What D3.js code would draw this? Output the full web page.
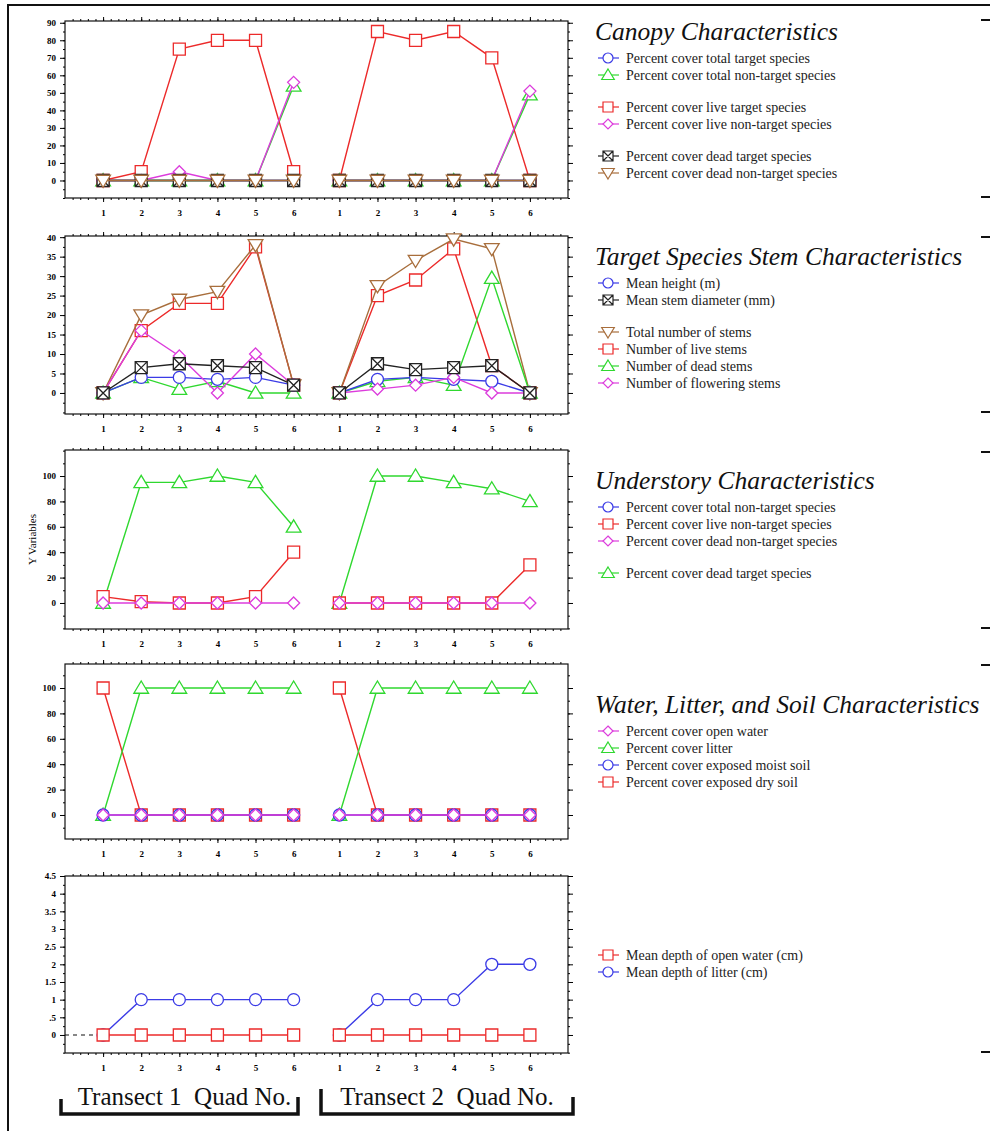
<!DOCTYPE html>
<html lang="en">
<head>
<meta charset="utf-8">
<title>Transect quad characteristics</title>
<script src="https://d3js.org/d3.v7.min.js"></script>
<style>
  body { margin: 0; background: #fff; }
  svg { display: block; }
  .legend-text { font-family: "Liberation Serif", "Times New Roman", serif; font-size: 14px; fill: #222; }
  .panel-title { font-family: "Liberation Serif", "Times New Roman", serif; font-size: 25.5px; font-style: italic; fill: #111; }
  .transect-label { font-family: "Liberation Serif", "Times New Roman", serif; font-size: 25px; fill: #111; white-space: pre; }
</style>
</head>
<body>
<div id="chart"></div>
<script>
// quad numbers inside each transect
const quads = [1, 2, 3, 4, 5, 6];

// every series is [transect 1 values, transect 2 values]; null = not plotted
// Canopy characteristics (percent cover)
const canopyTotalTarget    = [[0, 0, 0, 0, 0, 0], [0, 0, 0, 0, 0, 0]];
const canopyTotalNonTarget = [[0, 0, 0, 0, 0, 54], [0, 0, 0, 0, 0, 49]];
const canopyLiveTarget     = [[0, 5, 75, 80, 80, 5], [0, 85, 80, 85, 70, 0]];
const canopyLiveNonTarget  = [[0, 0, 5, 0, 0, 56], [0, 0, 0, 0, 0, 51]];
const canopyDeadTarget     = [[0, 0, 0, 0, 0, 0], [0, 0, 0, 0, 0, 0]];
const canopyDeadNonTarget  = [[0, 0, 0, 0, 0, 0], [0, 0, 0, 0, 0, 0]];

// Target species stem characteristics
const stemMeanHeight   = [[0, 4, 4, 3.5, 4, 2], [0, 3.5, 4, 3.5, 3, 0]];
const stemMeanDiameter = [[0, 6.5, 7.5, 7, 6.5, 2], [0, 7.5, 6, 6.5, 7, 0]];
const stemTotal        = [[0, 20, 24, 26, 38, 2], [0, 27.5, 34, 39.5, 37, 0]];
const stemLive         = [[0, 16, 23, 23, 37.5, 2], [0, 25, 29, 37, 7, 0]];
const stemDead         = [[0, 4, 1, 3, 0, 0], [0, 3, 4, 2, 29.5, 0]];
const stemFlowering    = [[0, 16, 9.5, 0, 10, 2], [0, 1, 2, 4, 0, 0]];

// Understory characteristics (percent cover)
const underTotalNonTarget = [[null, null, null, null, null, null], [null, null, null, null, null, null]];
const underLiveNonTarget  = [[5, 1, 0, 0, 5, 40], [0, 0, 0, 0, 0, 30]];
const underDeadNonTarget  = [[0, 0, 0, 0, 0, 0], [0, 0, 0, 0, 0, 0]];
const underDeadTarget     = [[0, 95, 95, 100, 95, 60], [0, 100, 100, 95, 90, 80]];

// Water, litter and soil (percent cover)
const waterOpen      = [[0, 0, 0, 0, 0, 0], [0, 0, 0, 0, 0, 0]];
const waterLitter    = [[0, 100, 100, 100, 100, 100], [0, 100, 100, 100, 100, 100]];
const waterMoistSoil = [[0, 0, 0, 0, 0, 0], [0, 0, 0, 0, 0, 0]];
const waterDrySoil   = [[100, 0, 0, 0, 0, 0], [100, 0, 0, 0, 0, 0]];

// Depths (cm)
const depthOpenWater = [[0, 0, 0, 0, 0, 0], [0, 0, 0, 0, 0, 0]];
const depthLitter    = [[0, 1, 1, 1, 1, 1], [0, 1, 1, 1, 2, 2]];

const transectLabels = ["Transect 1  Quad No.", "Transect 2  Quad No."];

const colors = {
    blue: "#3b3be6", green: "#2fd82f", red: "#ec2a2a",
    magenta: "#dc3cdc", brown: "#a86e3c", black: "#222"
};

// panels: draw order = series order (later on top); legend lists legend order + gaps
const panels = [
    {
        title: "Canopy Characteristics",
        frame: [21, 198], domain: [-10, 91],
        major: d3.range(0, 91, 10), minor: d3.range(-10, 91, 5),
        legendY: 58,
        legend: [
            ["Percent cover total target species", "blue", "circle"],
            ["Percent cover total non-target species", "green", "triUp"],
            null,
            ["Percent cover live target species", "red", "square"],
            ["Percent cover live non-target species", "magenta", "diamond"],
            null,
            ["Percent cover dead target species", "black", "boxX"],
            ["Percent cover dead non-target species", "brown", "triDown"]
        ],
        series: [
            [canopyTotalTarget, "blue", "circle"],
            [canopyTotalNonTarget, "green", "triUp"],
            [canopyLiveTarget, "red", "square"],
            [canopyLiveNonTarget, "magenta", "diamond"],
            [canopyDeadTarget, "black", "boxX"],
            [canopyDeadNonTarget, "brown", "triDown"]
        ]
    },
    {
        title: "Target Species Stem Characteristics",
        frame: [236, 414], domain: [-5.4, 40.3],
        major: d3.range(0, 41, 5), minor: d3.range(-5, 41, 2.5),
        legendY: 283,
        legend: [
            ["Mean height (m)", "blue", "circle"],
            ["Mean stem diameter (mm)", "black", "boxX"],
            null,
            ["Total number of stems", "brown", "triDown"],
            ["Number of live stems", "red", "square"],
            ["Number of dead stems", "green", "triUp"],
            ["Number of flowering stems", "magenta", "diamond"]
        ],
        series: [
            [stemLive, "red", "square"],
            [stemTotal, "brown", "triDown"],
            [stemDead, "green", "triUp"],
            [stemMeanHeight, "blue", "circle"],
            [stemFlowering, "magenta", "diamond"],
            [stemMeanDiameter, "black", "boxX"]
        ]
    },
    {
        title: "Understory Characteristics",
        frame: [450, 629], domain: [-20.5, 120.5],
        major: d3.range(0, 101, 20), minor: d3.range(-20, 121, 10),
        legendY: 507, yLabel: "Y Variables",
        legend: [
            ["Percent cover total non-target species", "blue", "circle"],
            ["Percent cover live non-target species", "red", "square"],
            ["Percent cover dead non-target species", "magenta", "diamond"],
            null,
            ["Percent cover dead target species", "green", "triUp"]
        ],
        series: [
            [underTotalNonTarget, "blue", "circle"],
            [underDeadTarget, "green", "triUp"],
            [underLiveNonTarget, "red", "square"],
            [underDeadNonTarget, "magenta", "diamond"]
        ]
    },
    {
        title: "Water, Litter, and Soil Characteristics",
        frame: [664, 839], domain: [-18.9, 118.9],
        major: d3.range(0, 101, 20), minor: d3.range(-10, 119, 10),
        legendY: 731,
        legend: [
            ["Percent cover open water", "magenta", "diamond"],
            ["Percent cover litter", "green", "triUp"],
            ["Percent cover exposed moist soil", "blue", "circle"],
            ["Percent cover exposed dry soil", "red", "square"]
        ],
        series: [
            [waterDrySoil, "red", "square"],
            [waterLitter, "green", "triUp"],
            [waterMoistSoil, "blue", "circle"],
            [waterOpen, "magenta", "diamond"]
        ]
    },
    {
        title: null,
        frame: [876, 1053], domain: [-0.51, 4.5],
        major: d3.range(0, 4.51, 0.5), minor: d3.range(-0.5, 4.51, 0.25),
        legendY: 955, leadDash: true,
        legend: [
            ["Mean depth of open water (cm)", "red", "square"],
            ["Mean depth of litter (cm)", "blue", "circle"]
        ],
        series: [
            [depthLitter, "blue", "circle"],
            [depthOpenWater, "red", "square"]
        ]
    }
];

const W = 990, H = 1131;
const plotLeft = 65, plotRight = 568;
const transectShift = 6.2;   // gap between the two transects along x

const svg = d3.select("#chart").append("svg")
    .attr("width", W).attr("height", H);

const x = d3.scaleLinear().domain([0, 13.2]).range([plotLeft, plotRight]);

function markerPath(shape, s) {
    const p = d3.path();
    if (shape === "circle") {
        p.moveTo(s, 0); p.arc(0, 0, s, 0, 2 * Math.PI);
    } else if (shape === "square" || shape === "boxX") {
        p.rect(-s, -s, 2 * s, 2 * s);
        if (shape === "boxX") {
            p.moveTo(-s, -s); p.lineTo(s, s);
            p.moveTo(s, -s); p.lineTo(-s, s);
        }
    } else if (shape === "triUp") {
        p.moveTo(0, -s); p.lineTo(s * 1.05, s * 0.75); p.lineTo(-s * 1.05, s * 0.75); p.closePath();
    } else if (shape === "triDown") {
        p.moveTo(0, s); p.lineTo(s * 1.05, -s * 0.75); p.lineTo(-s * 1.05, -s * 0.75); p.closePath();
    } else if (shape === "diamond") {
        p.moveTo(0, -s); p.lineTo(s, 0); p.lineTo(0, s); p.lineTo(-s, 0); p.closePath();
    }
    return p.toString();
}
const markerSize = { circle: 6, square: 6, boxX: 6, triUp: 7, triDown: 7, diamond: 6 };

const tickFont = g => g
    .attr("font-family", "'Liberation Serif', 'Times New Roman', serif")
    .attr("font-size", 9)
    .attr("font-weight", "bold");

panels.forEach(panel => {
    const [top, bottom] = panel.frame;
    const y = d3.scaleLinear().domain(panel.domain).range([bottom, top]);
    const g = svg.append("g");

    // frame
    g.append("rect")
        .attr("x", plotLeft).attr("y", top)
        .attr("width", plotRight - plotLeft).attr("height", bottom - top)
        .attr("fill", "none").attr("stroke", "#111").attr("stroke-width", 1.2);

    // x ticks (quad positions + minor)
    const quadPos = [];
    const quadLab = [];
    [0, 1].forEach(t => quads.forEach(q => { quadPos.push(q + t * transectShift); quadLab.push(q); }));
    const xMinor = d3.range(0.2, 13.2, 0.2);

    g.append("g").attr("transform", `translate(0,${bottom})`)
        .call(d3.axisBottom(x).tickValues(quadPos).tickSize(4).tickPadding(8)
            .tickFormat((d, i) => quadLab[i]))
        .call(tickFont)
        .call(a => a.select(".domain").remove());
    g.append("g").attr("transform", `translate(0,${bottom})`)
        .call(d3.axisBottom(x).tickValues(xMinor).tickSize(2).tickFormat(""))
        .call(a => a.select(".domain").remove());
    g.append("g").attr("transform", `translate(0,${top})`)
        .call(d3.axisTop(x).tickValues(quadPos).tickSize(4).tickFormat(""))
        .call(a => a.select(".domain").remove());
    g.append("g").attr("transform", `translate(0,${top})`)
        .call(d3.axisTop(x).tickValues(xMinor).tickSize(2).tickFormat(""))
        .call(a => a.select(".domain").remove());

    // y ticks
    const fmt = v => panel.domain[1] < 10 ? (v === 0.5 ? ".5" : String(v)) : String(v);
    g.append("g").attr("transform", `translate(${plotLeft},0)`)
        .call(d3.axisLeft(y).tickValues(panel.major).tickSize(5).tickPadding(4).tickFormat(fmt))
        .call(tickFont)
        .call(a => a.select(".domain").remove());
    g.append("g").attr("transform", `translate(${plotLeft},0)`)
        .call(d3.axisLeft(y).tickValues(panel.minor).tickSize(2).tickFormat(""))
        .call(a => a.select(".domain").remove());
    g.append("g").attr("transform", `translate(${plotRight},0)`)
        .call(d3.axisRight(y).tickValues(panel.major).tickSize(5).tickFormat(""))
        .call(a => a.select(".domain").remove());
    g.append("g").attr("transform", `translate(${plotRight},0)`)
        .call(d3.axisRight(y).tickValues(panel.minor).tickSize(2).tickFormat(""))
        .call(a => a.select(".domain").remove());

    if (panel.leadDash) {
        g.append("line")
            .attr("x1", x(0)).attr("x2", x(1)).attr("y1", y(0)).attr("y2", y(0))
            .attr("stroke", "#111").attr("stroke-width", 1.2).attr("stroke-dasharray", "4,4");
    }

    if (panel.yLabel) {
        g.append("text")
            .attr("transform", `translate(36,${(top + bottom) / 2}) rotate(-90)`)
            .attr("text-anchor", "middle")
            .attr("font-family", "'Liberation Serif', serif")
            .attr("font-size", 11)
            .text(panel.yLabel);
    }

    // series
    const line = d3.line().defined(d => d.v !== null).x(d => x(d.pos)).y(d => y(d.v));
    panel.series.forEach(([vals, col, shape]) => {
        const sg = g.append("g");
        vals.forEach((tv, t) => {
            const pts = tv.map((v, i) => ({ pos: quads[i] + t * transectShift, v }));
            sg.append("path").datum(pts)
                .attr("d", line)
                .attr("fill", "none").attr("stroke", colors[col]).attr("stroke-width", 1.4);
            sg.selectAll(null).data(pts.filter(d => d.v !== null)).join("path")
                .attr("transform", d => `translate(${x(d.pos)},${y(d.v)})`)
                .attr("d", markerPath(shape, markerSize[shape]))
                .attr("fill", "#fff").attr("stroke", colors[col]).attr("stroke-width", 1.3);
        });
    });

    // legend
    const lg = svg.append("g");
    if (panel.title) {
        lg.append("text").attr("class", "panel-title")
            .attr("x", 595).attr("y", panel.legendY - 18)
            .text(panel.title);
    }
    let ly = panel.legendY;
    panel.legend.forEach(item => {
        if (item === null) { ly += 15; return; }
        const [label, col, shape] = item;
        lg.append("line").attr("x1", 598).attr("x2", 619).attr("y1", ly).attr("y2", ly)
            .attr("stroke", colors[col]).attr("stroke-width", 1.2);
        lg.append("path").attr("transform", `translate(608,${ly})`)
            .attr("d", markerPath(shape, markerSize[shape] - 1))
            .attr("fill", "#fff").attr("stroke", colors[col]).attr("stroke-width", 1.2);
        lg.append("text").attr("class", "legend-text")
            .attr("x", 626).attr("y", ly).attr("dy", "0.35em")
            .text(label);
        ly += 17;
    });
});

// transect labels with brackets
const bracketSpans = [[61, 298], [321, 573]];
transectLabels.forEach((label, t) => {
    const [x0, x1] = bracketSpans[t];
    svg.append("text").attr("class", "transect-label")
        .attr("x", (x0 + x1) / 2 + (t === 0 ? 5 : 0)).attr("y", 1105)
        .attr("text-anchor", "middle")
        .text(label);
    svg.append("path")
        .attr("d", `M${x0},${t === 0 ? 1099 : 1089}V1114H${x1}V1097`)
        .attr("fill", "none").attr("stroke", "#111").attr("stroke-width", 3.5);
});

// outer border
svg.append("path").attr("d", `M8,${H}V5H${W}`)
    .attr("fill", "none").attr("stroke", "#111").attr("stroke-width", 2);

// right-edge markers at frame edges
[20, 197, 237, 412, 452, 628, 665, 1052].forEach(yy => {
    svg.append("line").attr("x1", 981).attr("x2", 990).attr("y1", yy).attr("y2", yy)
        .attr("stroke", "#111").attr("stroke-width", 2);
});
</script>
</body>
</html>
